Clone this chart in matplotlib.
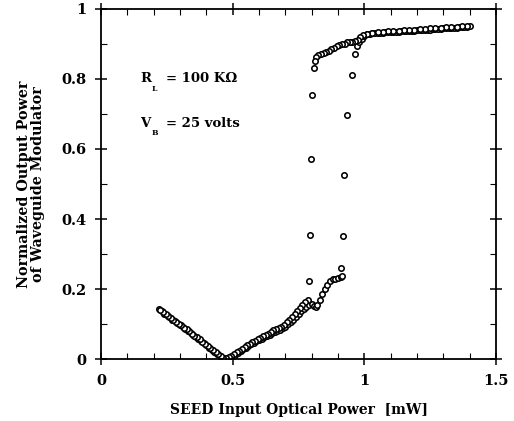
import numpy as np
import matplotlib
matplotlib.use("Agg")
import matplotlib.pyplot as plt
from matplotlib.ticker import MultipleLocator

# increasing input power: lower branch, switches up near 0.92-0.97 mW
up_x = [0.22, 0.23, 0.24, 0.25, 0.26, 0.27, 0.28, 0.29, 0.30, 0.31, 0.32, 0.33,
        0.34, 0.35, 0.36, 0.37, 0.38, 0.39, 0.40, 0.41, 0.42, 0.43, 0.44, 0.45,
        0.46, 0.47, 0.48, 0.49, 0.50, 0.51, 0.52, 0.53, 0.54, 0.55, 0.56, 0.57,
        0.58, 0.59, 0.60, 0.61, 0.62, 0.63, 0.64, 0.65, 0.66, 0.67, 0.68, 0.69,
        0.70, 0.71, 0.72, 0.73, 0.74, 0.75, 0.76, 0.77, 0.78, 0.79, 0.80, 0.81,
        0.815, 0.82, 0.83, 0.84, 0.85, 0.86, 0.87, 0.88, 0.89, 0.90, 0.91, 0.915,
        0.913, 0.919, 0.923, 0.933, 0.954, 0.965, 0.972,
        0.98, 0.99, 1.00, 1.01, 1.02, 1.03, 1.04, 1.05, 1.06, 1.07, 1.08, 1.09,
        1.10, 1.11, 1.12, 1.13, 1.14, 1.15, 1.16, 1.17, 1.18, 1.19, 1.20, 1.21,
        1.22, 1.23, 1.24, 1.25, 1.26, 1.27, 1.28, 1.29, 1.30, 1.31, 1.32, 1.33,
        1.34, 1.35, 1.36, 1.37, 1.38, 1.39, 1.40]
up_y = [0.142, 0.136, 0.130, 0.125, 0.119, 0.113, 0.108, 0.102, 0.097, 0.091, 0.085, 0.080,
        0.074, 0.068, 0.063, 0.057, 0.051, 0.045, 0.039, 0.033, 0.027, 0.021, 0.015, 0.009,
        0.004, 0.001, 0.002, 0.005, 0.009, 0.013, 0.018, 0.023, 0.028, 0.033, 0.038, 0.043,
        0.047, 0.051, 0.055, 0.058, 0.062, 0.066, 0.070, 0.074, 0.078, 0.081, 0.084, 0.088,
        0.093, 0.099, 0.106, 0.113, 0.120, 0.128, 0.136, 0.143, 0.150, 0.155, 0.158, 0.152,
        0.148, 0.155, 0.170, 0.185, 0.200, 0.212, 0.222, 0.228, 0.230, 0.232, 0.234, 0.238,
        0.260, 0.351, 0.525, 0.696, 0.810, 0.872, 0.893,
        0.905, 0.915, 0.922, 0.927, 0.929, 0.930, 0.931, 0.931, 0.932, 0.932, 0.933, 0.933,
        0.934, 0.934, 0.935, 0.935, 0.936, 0.936, 0.937, 0.937, 0.938, 0.938, 0.939, 0.939,
        0.940, 0.940, 0.941, 0.941, 0.942, 0.942, 0.943, 0.943, 0.944, 0.944, 0.945, 0.945,
        0.946, 0.946, 0.947, 0.947, 0.948, 0.949, 0.950]

# decreasing input power: upper branch, switches down near 0.79-0.81 mW
down_x = [1.39, 1.37, 1.35, 1.33, 1.31, 1.29, 1.27, 1.25, 1.23, 1.21, 1.19, 1.17,
          1.15, 1.13, 1.11, 1.09, 1.07, 1.05, 1.03, 1.01,
          0.995, 0.985, 0.975, 0.965, 0.955, 0.945, 0.935, 0.925, 0.915, 0.905,
          0.895, 0.885, 0.875, 0.865, 0.855, 0.845, 0.835, 0.825, 0.818, 0.813,
          0.809, 0.803, 0.797, 0.794, 0.791,
          0.785, 0.775, 0.765, 0.755, 0.745, 0.735, 0.725, 0.715, 0.705, 0.695,
          0.685, 0.675, 0.665, 0.655, 0.645, 0.635, 0.625, 0.615, 0.605, 0.595,
          0.585, 0.575, 0.565, 0.555, 0.545, 0.535, 0.525, 0.515, 0.505, 0.495,
          0.485, 0.475, 0.465, 0.455, 0.445, 0.435, 0.425, 0.415, 0.405, 0.395,
          0.385, 0.375, 0.365, 0.355, 0.345, 0.335, 0.325, 0.315, 0.305, 0.295,
          0.285, 0.275, 0.265, 0.255, 0.245, 0.235, 0.225]
down_y = [0.952, 0.950, 0.949, 0.948, 0.947, 0.946, 0.945, 0.944, 0.943, 0.942, 0.941, 0.940,
          0.939, 0.938, 0.937, 0.936, 0.935, 0.934, 0.932, 0.928,
          0.925, 0.920, 0.912, 0.908, 0.906, 0.905, 0.904, 0.901, 0.899, 0.897,
          0.893, 0.888, 0.884, 0.880, 0.876, 0.873, 0.871, 0.868, 0.862, 0.852,
          0.831, 0.753, 0.570, 0.354, 0.222,
          0.168, 0.162, 0.155, 0.147, 0.138, 0.129, 0.121, 0.113, 0.105, 0.098,
          0.093, 0.090, 0.087, 0.083, 0.078, 0.073, 0.069, 0.065, 0.061, 0.057,
          0.053, 0.049, 0.044, 0.039, 0.034, 0.029, 0.024, 0.019, 0.014, 0.010,
          0.006, 0.003, 0.003, 0.008, 0.014, 0.020, 0.026, 0.032, 0.038, 0.044,
          0.050, 0.056, 0.062, 0.067, 0.073, 0.079, 0.085, 0.090, 0.096, 0.101,
          0.107, 0.112, 0.118, 0.123, 0.129, 0.134, 0.139]

plt.rcParams['font.family'] = ['DejaVu Serif']
plt.rcParams['font.weight'] = 'bold'

fig = plt.figure(figsize=(5.14, 4.21), dpi=100)
ax = fig.add_axes([0.1965, 0.147, 0.7685, 0.832])

mk = dict(ls='none', marker='o', ms=3.9, mfc='white', mec='black', mew=1.15)
ax.plot(up_x, up_y, **mk)
ax.plot(down_x, down_y, **mk)

ax.set_xlim(0, 1.5)
ax.set_ylim(0, 1)
ax.xaxis.set_minor_locator(MultipleLocator(0.1))
ax.yaxis.set_minor_locator(MultipleLocator(0.1))
ax.set_xticks([0, 0.5, 1, 1.5], ['0', '0.5', '1', '1.5'])
ax.set_yticks([0, 0.2, 0.4, 0.6, 0.8, 1], ['0', '0.2', '0.4', '0.6', '0.8', '1'])
ax.tick_params(which='major', direction='inout', length=9, width=1.1,
               top=True, right=True, labelsize=10.5, pad=6)
ax.tick_params(which='minor', direction='in', length=4, width=0.8,
               top=True, right=True)
for s in ax.spines.values():
    s.set_linewidth(1.3)

ax.set_xlabel('SEED Input Optical Power  [mW]', fontsize=10, fontweight='bold', labelpad=11)
ax.set_ylabel('Normalized Output Power\nof Waveguide Modulator', fontsize=10.3,
              fontweight='bold', labelpad=12, linespacing=0.95)

# annotations with low subscripts, as in the original
for y, main, sub, rest in [(0.80, 'R', 'L', '= 100 KΩ'), (0.674, 'V', 'B', '= 25 volts')]:
    ax.text(0.148, y, main, fontsize=9.5, fontweight='bold', va='center')
    ax.annotate(sub, xy=(0.148, y), xytext=(8, -7), textcoords='offset points',
                fontsize=5.5, fontweight='bold', va='center')
    ax.annotate(rest, xy=(0.148, y), xytext=(18.5, 0), textcoords='offset points',
                fontsize=9.5, fontweight='bold', va='center')

fig.savefig('out.png', dpi=100)
